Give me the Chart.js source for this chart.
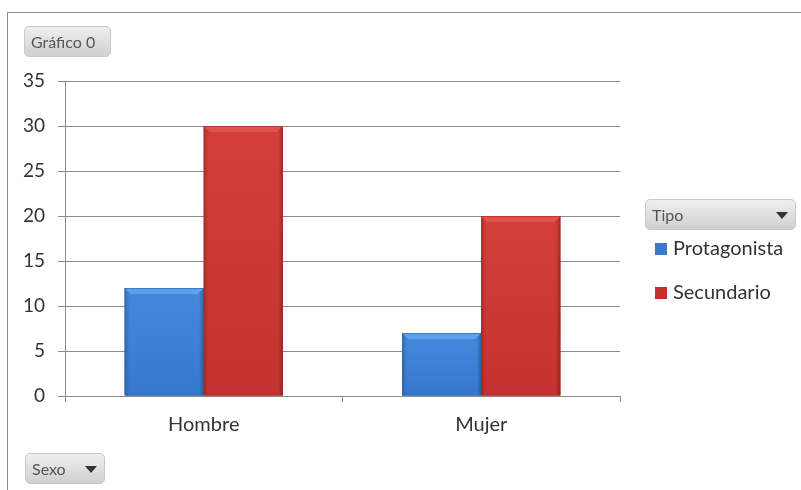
<!DOCTYPE html>
<html lang="es">
<head>
  <meta charset="UTF-8">
  <title>Gráfico 0</title>
  <style>
    body {
      margin: 0;
      padding: 0;
      background: #fff;
      font-family: Lato, "Open Sans", sans-serif;
      color: #333;
    }
    .wrap {
      position: relative;
      width: 801px;
      height: 490px;
      overflow: hidden;
    }
    .frame {
      position: absolute;
      left: 7px;
      top: 12px;
      width: 800px;
      height: 490px;
      border-top: 1px solid #8a8a8a;
      border-left: 1px solid #8a8a8a;
    }
    canvas { position: absolute; left: 0; top: 0; }
    .btn {
      position: absolute;
      box-sizing: border-box;
      border: 1px solid #c8c8c8;
      border-radius: 5px;
      background: linear-gradient(#efefef, #d0d0d0);
      font-size: 16px;
      color: #555;
      padding: 0 6px;
      line-height: 29px;
      height: 31px;
    }
    .btn .arr {
      position: absolute;
      right: 7px;
      top: 12px;
      width: 0; height: 0;
      border-left: 6px solid transparent;
      border-right: 6px solid transparent;
      border-top: 7px solid #333;
    }
    #legend {
      position: absolute;
      left: 655px;
      top: 235px;
      font-size: 20px;
      color: #333;
    }
    #legend div { height: 44px; line-height: 24px; }
    #legend span.sw {
      display: inline-block;
      width: 12px; height: 12px;
      margin-right: 6px;
      vertical-align: 0px;
    }
  </style>
</head>
<body>
<div class="wrap">
  <div class="frame"></div>
  <canvas id="chart" width="801" height="490"></canvas>
  <div class="btn" style="left:24px;top:26px;width:87px;">Gráfico 0</div>
  <div class="btn" style="left:645px;top:199px;width:151px;">Tipo<span class="arr"></span></div>
  <div class="btn" style="left:25px;top:453px;width:80px;">Sexo<span class="arr"></span></div>
  <div id="legend"></div>
</div>

<script src="https://cdn.jsdelivr.net/npm/chart.js"></script>
<script>
  const categorias = ['Hombre', 'Mujer'];
  const series = ['Protagonista', 'Secundario'];
  const protagonista = [12, 7];
  const secundario = [30, 20];
  const ejeY = [0, 5, 10, 15, 20, 25, 30, 35];

  const colores = [
    { base: '#3778cf', claro: '#5fa0ec', arriba: '#4488dc', oscuro: '#285fa8', muestra: '#3a78cc' },
    { base: '#c4332f', claro: '#e2524d', arriba: '#d43f3b', oscuro: '#9e2724', muestra: '#c3302d' }
  ];

  // repinta cada barra con degradado y bisel (aspecto 3D de Excel)
  const bisel = {
    id: 'bisel',
    afterDatasetsDraw(chart) {
      const c = chart.ctx;
      chart.data.datasets.forEach((ds, i) => {
        const col = colores[i];
        chart.getDatasetMeta(i).data.forEach(bar => {
          const x0 = bar.x - bar.width / 2, x1 = bar.x + bar.width / 2;
          const top = bar.y, bot = bar.base;
          const w = x1 - x0, h = bot - top;
          const b = 6;
          c.save();
          // cuerpo
          let g = c.createLinearGradient(0, top, 0, bot);
          g.addColorStop(0, col.arriba);
          g.addColorStop(1, col.base);
          c.fillStyle = g;
          c.fillRect(x0, top, w, h);
          // sombreado lateral
          g = c.createLinearGradient(x0, 0, x1, 0);
          g.addColorStop(0, 'rgba(0,0,0,0.18)');
          g.addColorStop(0.06, 'rgba(0,0,0,0)');
          g.addColorStop(0.94, 'rgba(0,0,0,0)');
          g.addColorStop(1, 'rgba(0,0,0,0.25)');
          c.fillStyle = g;
          c.fillRect(x0, top, w, h);
          // bisel superior
          c.fillStyle = col.claro;
          c.beginPath();
          c.moveTo(x0, top);
          c.lineTo(x1, top);
          c.lineTo(x1 - b, top + b);
          c.lineTo(x0 + b, top + b);
          c.closePath();
          c.fill();
          // borde oscuro
          c.strokeStyle = col.oscuro;
          c.globalAlpha = 0.6;
          c.lineWidth = 1;
          c.strokeRect(x0 + 0.5, top + 0.5, w - 1, h - 1);
          c.restore();
        });
      });
    }
  };

  new Chart(document.getElementById('chart'), {
    type: 'bar',
    data: {
      labels: categorias,
      datasets: [
        { label: series[0], data: protagonista, backgroundColor: colores[0].base, borderWidth: 0 },
        { label: series[1], data: secundario, backgroundColor: colores[1].base, borderWidth: 0 }
      ]
    },
    options: {
      responsive: false,
      animation: false,
      layout: { padding: { top: 81, right: 181, left: 0, bottom: 0 } },
      plugins: {
        legend: { display: false },
        tooltip: { enabled: false }
      },
      datasets: { bar: { categoryPercentage: 0.57, barPercentage: 1 } },
      scales: {
        x: {
          afterFit: s => { s.height = 94; },
          grid: { offset: true, drawOnChartArea: false, color: '#8a8a8a', tickLength: 6 },
          border: { color: '#8a8a8a' },
          ticks: { color: '#333', padding: 11, font: { family: 'Lato', size: 20 } }
        },
        y: {
          min: 0,
          max: 35,
          afterFit: s => { s.width = 65; },
          afterBuildTicks: s => { s.ticks = ejeY.map(v => ({ value: v })); },
          grid: { color: '#8a8a8a', tickLength: 7 },
          border: { color: '#8a8a8a' },
          ticks: { color: '#333', padding: 13, font: { family: 'Lato', size: 19 } }
        }
      }
    },
    plugins: [bisel]
  });

  const leyenda = document.getElementById('legend');
  series.forEach((nombre, i) => {
    const d = document.createElement('div');
    d.innerHTML = '<span class="sw" style="background:' + colores[i].muestra + '"></span>' + nombre;
    leyenda.appendChild(d);
  });
</script>
</body>
</html>
